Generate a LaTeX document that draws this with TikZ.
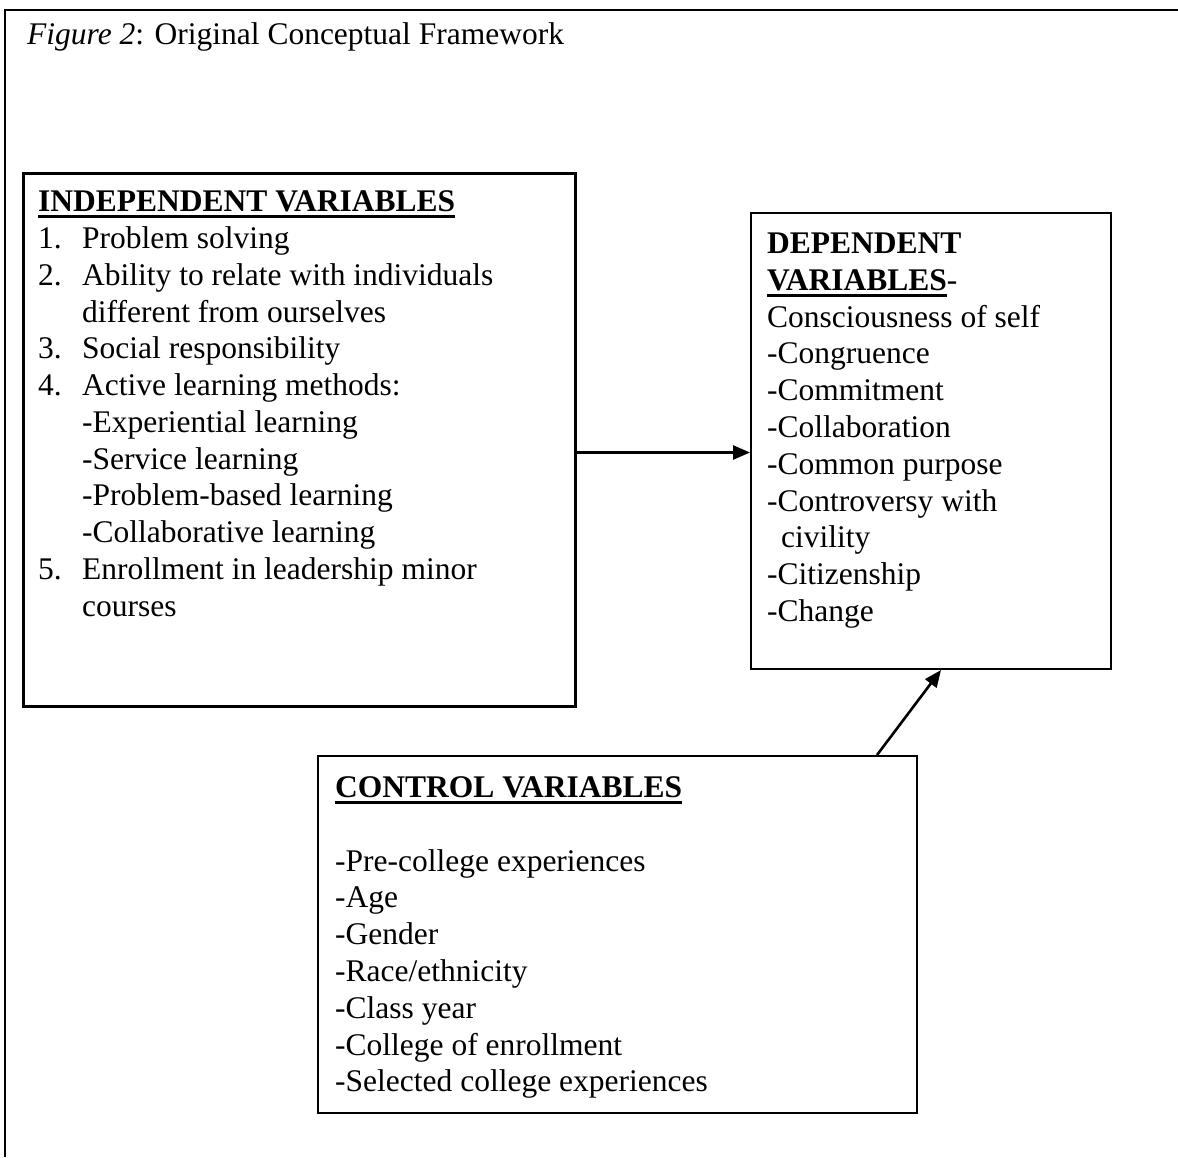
\documentclass[tikz,border=0pt]{standalone}
\usepackage{fontspec}
\setmainfont{Liberation Serif}
\usetikzlibrary{arrows.meta}
\newcommand{\myul}[1]{\setbox0\hbox{#1}\rlap{\rule[-7pt]{\wd0}{3pt}}\box0}
\begin{document}
\begin{tikzpicture}[x=1pt,y=-1pt,
  frame/.style={line width=2.6pt},
  box/.style={draw, inner sep=0pt, anchor=north west},
  txt/.style={anchor=base west, inner sep=0pt, font=\fontsize{31.5}{36.8}\selectfont},
  conn/.style={-{Triangle[length=17pt,width=14pt]}, line width=2.6pt}]
\useasboundingbox (0,0) rectangle (1178,1157);
\fill[white] (0,0) rectangle (1178,1157);
% outer frame
\draw[frame] (1178,10) -- (5,10) -- (5,1157);
\node[txt] (title) at (27,44) {\textit{Figure 2}: Original Conceptual Framework};
% boxes
\node[box, line width=3pt, minimum width=552pt, minimum height=533pt] (ind) at (22,172) {};
\node[box, line width=2pt, minimum width=360pt, minimum height=456pt] (dep) at (750,212) {};
\node[box, line width=2pt, minimum width=599pt, minimum height=357pt] (ctl) at (317,755) {};
% independent text
\node[txt] (i0) at (38,211) {\textbf{\myul{INDEPENDENT VARIABLES}}};
\node[txt] (i1n) at (38,248) {1.};
\node[txt] (i1) at (82,248) {Problem solving};
\node[txt] (i2n) at (38,285) {2.};
\node[txt] (i2) at (82,285) {Ability to relate with individuals};
\node[txt] (i2b) at (82,322) {different from ourselves};
\node[txt] (i3n) at (38,358) {3.};
\node[txt] (i3) at (82,358) {Social responsibility};
\node[txt] (i4n) at (38,395) {4.};
\node[txt] (i4) at (82,395) {Active learning methods:};
\node[txt] (i4a) at (82,432) {-Experiential learning};
\node[txt] (i4b) at (82,469) {-Service learning};
\node[txt] (i4c) at (82,505) {-Problem-based learning};
\node[txt] (i4d) at (82,542) {-Collaborative learning};
\node[txt] (i5n) at (38,579) {5.};
\node[txt] (i5) at (82,579) {Enrollment in leadership minor};
\node[txt] (i5b) at (82,616) {courses};
% dependent text
\node[txt] (d0) at (767,253) {\textbf{DEPENDENT}};
\node[txt] (d1) at (767,290) {\textbf{\myul{VARIABLES}}-};
\node[txt] (d2) at (767,327) {Consciousness of self};
\node[txt] (d3) at (767,363) {-Congruence};
\node[txt] (d4) at (767,400) {-Commitment};
\node[txt] (d5) at (767,437) {-Collaboration};
\node[txt] (d6) at (767,474) {-Common purpose};
\node[txt] (d7) at (767,511) {-Controversy with};
\node[txt] (d8) at (781,547) {civility};
\node[txt] (d9) at (767,584) {-Citizenship};
\node[txt] (d10) at (767,621) {-Change};
% control text
\node[txt] (c0) at (335,797) {\textbf{\myul{CONTROL VARIABLES}}};
\node[txt] (c1) at (335,871) {-Pre-college experiences};
\node[txt] (c2) at (335,907) {-Age};
\node[txt] (c3) at (335,944) {-Gender};
\node[txt] (c4) at (335,981) {-Race/ethnicity};
\node[txt] (c5) at (335,1018) {-Class year};
\node[txt] (c6) at (335,1055) {-College of enrollment};
\node[txt] (c7) at (335,1091) {-Selected college experiences};
% connectors
\draw[conn] ([yshift=-12.5pt]ind.east) -- ([yshift=-12.5pt]ind.east -| dep.west);
\draw[conn] ([xshift=259.5pt]ctl.north) -- ([xshift=10pt]dep.south);
\end{tikzpicture}
\end{document}
